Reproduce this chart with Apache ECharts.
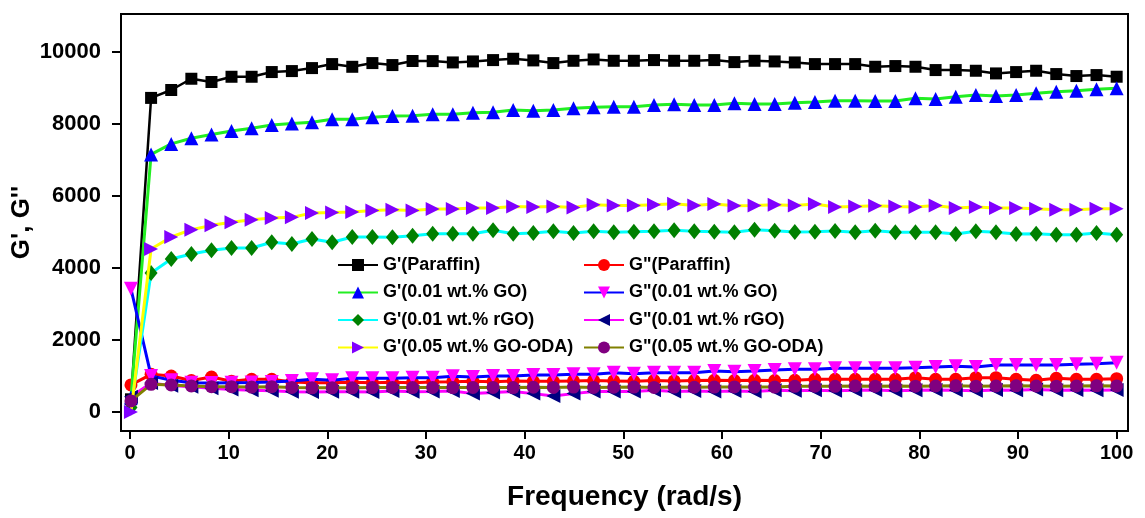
<!DOCTYPE html>
<html>
<head>
<meta charset="utf-8">
<script src="https://cdn.jsdelivr.net/npm/echarts@6/dist/echarts.min.js"></script>
<style>
html,body{margin:0;padding:0;background:#fff;}
#c{width:1145px;height:518px;}
</style>
</head>
<body>
<div id="c"></div>
<script>
// Frequency (rad/s)
const freq = [0.1,2.14,4.18,6.22,8.26,10.29,12.33,14.37,16.41,18.45,20.49,22.53,24.57,26.6,28.64,30.68,32.72,34.76,36.8,38.84,40.88,42.91,44.95,46.99,49.03,51.07,53.11,55.15,57.19,59.22,61.26,63.3,65.34,67.38,69.42,71.46,73.5,75.53,77.57,79.61,81.65,83.69,85.73,87.77,89.81,91.84,93.88,95.92,97.96,100];

const gpParaffin = [350,8720,8939,9252,9161,9307,9307,9438,9465,9548,9659,9584,9687,9632,9745,9742,9705,9733,9770,9807,9761,9687,9751,9788,9751,9751,9770,9751,9751,9770,9714,9751,9733,9705,9659,9659,9659,9585,9604,9585,9493,9493,9474,9400,9437,9474,9382,9327,9354,9308];
const gppParaffin = [750,1044,997,870,970,850,906,906,830,813,813,822,813,822,813,831,840,850,840,860,850,850,860,870,860,850,870,860,870,878,870,880,870,878,905,905,905,905,905,952,905,905,952,952,905,878,933,905,905,924];
const gpGO = [400,7150,7443,7600,7702,7803,7877,7969,8006,8043,8126,8126,8182,8219,8225,8265,8265,8311,8320,8385,8366,8385,8431,8459,8477,8477,8523,8542,8523,8523,8569,8551,8551,8588,8606,8643,8643,8634,8634,8708,8690,8754,8800,8773,8800,8846,8893,8920,8957,8985];
const gppGO = [3420,1000,880,813,800,813,820,830,860,905,878,933,933,933,952,952,990,970,998,998,1025,1025,1044,1044,1090,1062,1090,1090,1090,1136,1118,1136,1164,1182,1182,1210,1210,1210,1210,1229,1247,1266,1247,1302,1302,1302,1302,1321,1339,1367];
const gpRGO = [120,3860,4248,4387,4488,4553,4553,4710,4664,4802,4710,4858,4858,4848,4895,4950,4950,4950,5042,4950,4969,5015,4969,5015,4987,5005,5015,5042,5015,5005,4987,5061,5033,4996,5005,5024,4987,5033,4987,4987,4987,4941,5015,4987,4941,4950,4922,4922,4969,4922];
const gppRGO = [420,800,730,700,660,620,600,590,560,550,560,560,550,580,560,570,582,508,536,564,508,444,508,564,564,564,601,564,582,564,582,564,601,590,600,590,600,610,590,600,610,600,590,610,600,620,600,610,600,610];
const gpODA = [0,4525,4858,5061,5181,5264,5338,5384,5403,5523,5541,5550,5596,5615,5596,5633,5633,5661,5661,5707,5689,5707,5679,5753,5735,5735,5753,5781,5735,5772,5726,5735,5753,5735,5772,5689,5707,5726,5707,5689,5735,5661,5689,5661,5661,5643,5615,5615,5643,5643];
const gppODA = [305,767,748,721,702,702,690,700,680,670,670,670,675,680,675,680,675,680,680,675,685,680,690,680,685,690,680,690,685,690,695,690,690,710,715,710,720,715,720,715,720,725,715,720,725,720,715,720,725,721];

const xTicks = [0,10,20,30,40,50,60,70,80,90,100];
const yTicks = [0,2000,4000,6000,8000,10000];

const seriesNames = ["G'(Paraffin)","G\"(Paraffin)","G'(0.01 wt.% GO)","G\"(0.01 wt.% GO)","G'(0.01 wt.% rGO)","G\"(0.01 wt.% rGO)","G'(0.05 wt.% GO-ODA)","G\"(0.05 wt.% GO-ODA)"];
const seriesData = [gpParaffin,gppParaffin,gpGO,gppGO,gpRGO,gppRGO,gpODA,gppODA];

const styles = [
  {line:'#000000', mark:'#000000', symbol:'rect', size:12, rot:0, w:2.5},
  {line:'#ff0000', mark:'#ff0000', symbol:'circle', size:13, rot:0, w:3},
  {line:'#22ee22', mark:'#0000ff', symbol:'triangle', size:14, rot:0, w:3},
  {line:'#0000ff', mark:'#ff00ff', symbol:'triangle', size:14, rot:180, w:3},
  {line:'#00ffff', mark:'#008000', symbol:'diamond', size:[13,16], rot:0, w:3},
  {line:'#ff00ff', mark:'#000080', symbol:'triangle', size:14, rot:90, w:3},
  {line:'#ffff00', mark:'#8000ff', symbol:'triangle', size:14, rot:-90, w:3},
  {line:'#808000', mark:'#800080', symbol:'circle', size:13, rot:0, w:3}
];

const FONT = '"Liberation Sans", Arial, sans-serif';

const series = seriesNames.map((n,k)=>({
  name:n, type:'line',
  data: freq.map((f,i)=>[f, seriesData[k][i]]),
  symbol: styles[k].symbol,
  symbolSize: styles[k].size,
  symbolRotate: styles[k].rot,
  showAllSymbol: true,
  lineStyle:{color:styles[k].line, width:styles[k].w},
  itemStyle:{color:styles[k].mark, borderWidth:0},
  z: 2 + k
}));

const legendCommon = {
  orient:'vertical', padding:0, itemGap:7.5, itemWidth:40, itemHeight:15,
  selectedMode:false,
  textStyle:{fontFamily:FONT, fontWeight:'bold', fontSize:18, color:'#000', lineHeight:20}
};

const chart = echarts.init(document.getElementById('c'), null, {renderer:'canvas'});
chart.setOption({
  animation:false,
  backgroundColor:'#ffffff',
  grid:{left:121, right:17, top:14, bottom:87, show:true, borderColor:'#000', borderWidth:2, containLabel:false, outerBoundsMode:'none'},
  legend:[
    Object.assign({left:337, top:255, data:[seriesNames[0],seriesNames[2],seriesNames[4],seriesNames[6]]}, legendCommon),
    Object.assign({left:583, top:255, data:[seriesNames[1],seriesNames[3],seriesNames[5],seriesNames[7]]}, legendCommon)
  ],
  xAxis:{
    type:'value', min:-0.91, max:101.15,
    name:'Frequency (rad/s)', nameLocation:'middle', nameGap:52, nameMoveOverlap:false,
    nameTextStyle:{fontFamily:FONT, fontWeight:'bold', fontSize:28, color:'#000'},
    axisLine:{show:true, onZero:false, lineStyle:{color:'#000', width:2}},
    axisTick:{show:true, length:8, lineStyle:{color:'#000', width:2}, customValues:xTicks},
    axisLabel:{fontFamily:FONT, fontWeight:'bold', fontSize:20, color:'#000', margin:12, customValues:xTicks, formatter:(v)=>String(v)},
    splitLine:{show:false}
  },
  yAxis:{
    type:'value', min:-530, max:11050,
    name:"G', G''", nameLocation:'middle', nameGap:86, nameRotate:90, nameMoveOverlap:false,
    nameTextStyle:{fontFamily:FONT, fontWeight:'bold', fontSize:26, color:'#000'},
    axisLine:{show:true, onZero:false, lineStyle:{color:'#000', width:2}},
    axisTick:{show:true, length:9, lineStyle:{color:'#000', width:2}, customValues:yTicks},
    axisLabel:{fontFamily:FONT, fontWeight:'bold', fontSize:22, color:'#000', margin:20, customValues:yTicks, formatter:(v)=>String(v)},
    splitLine:{show:false}
  },
  series: series
});
</script>
</body>
</html>
